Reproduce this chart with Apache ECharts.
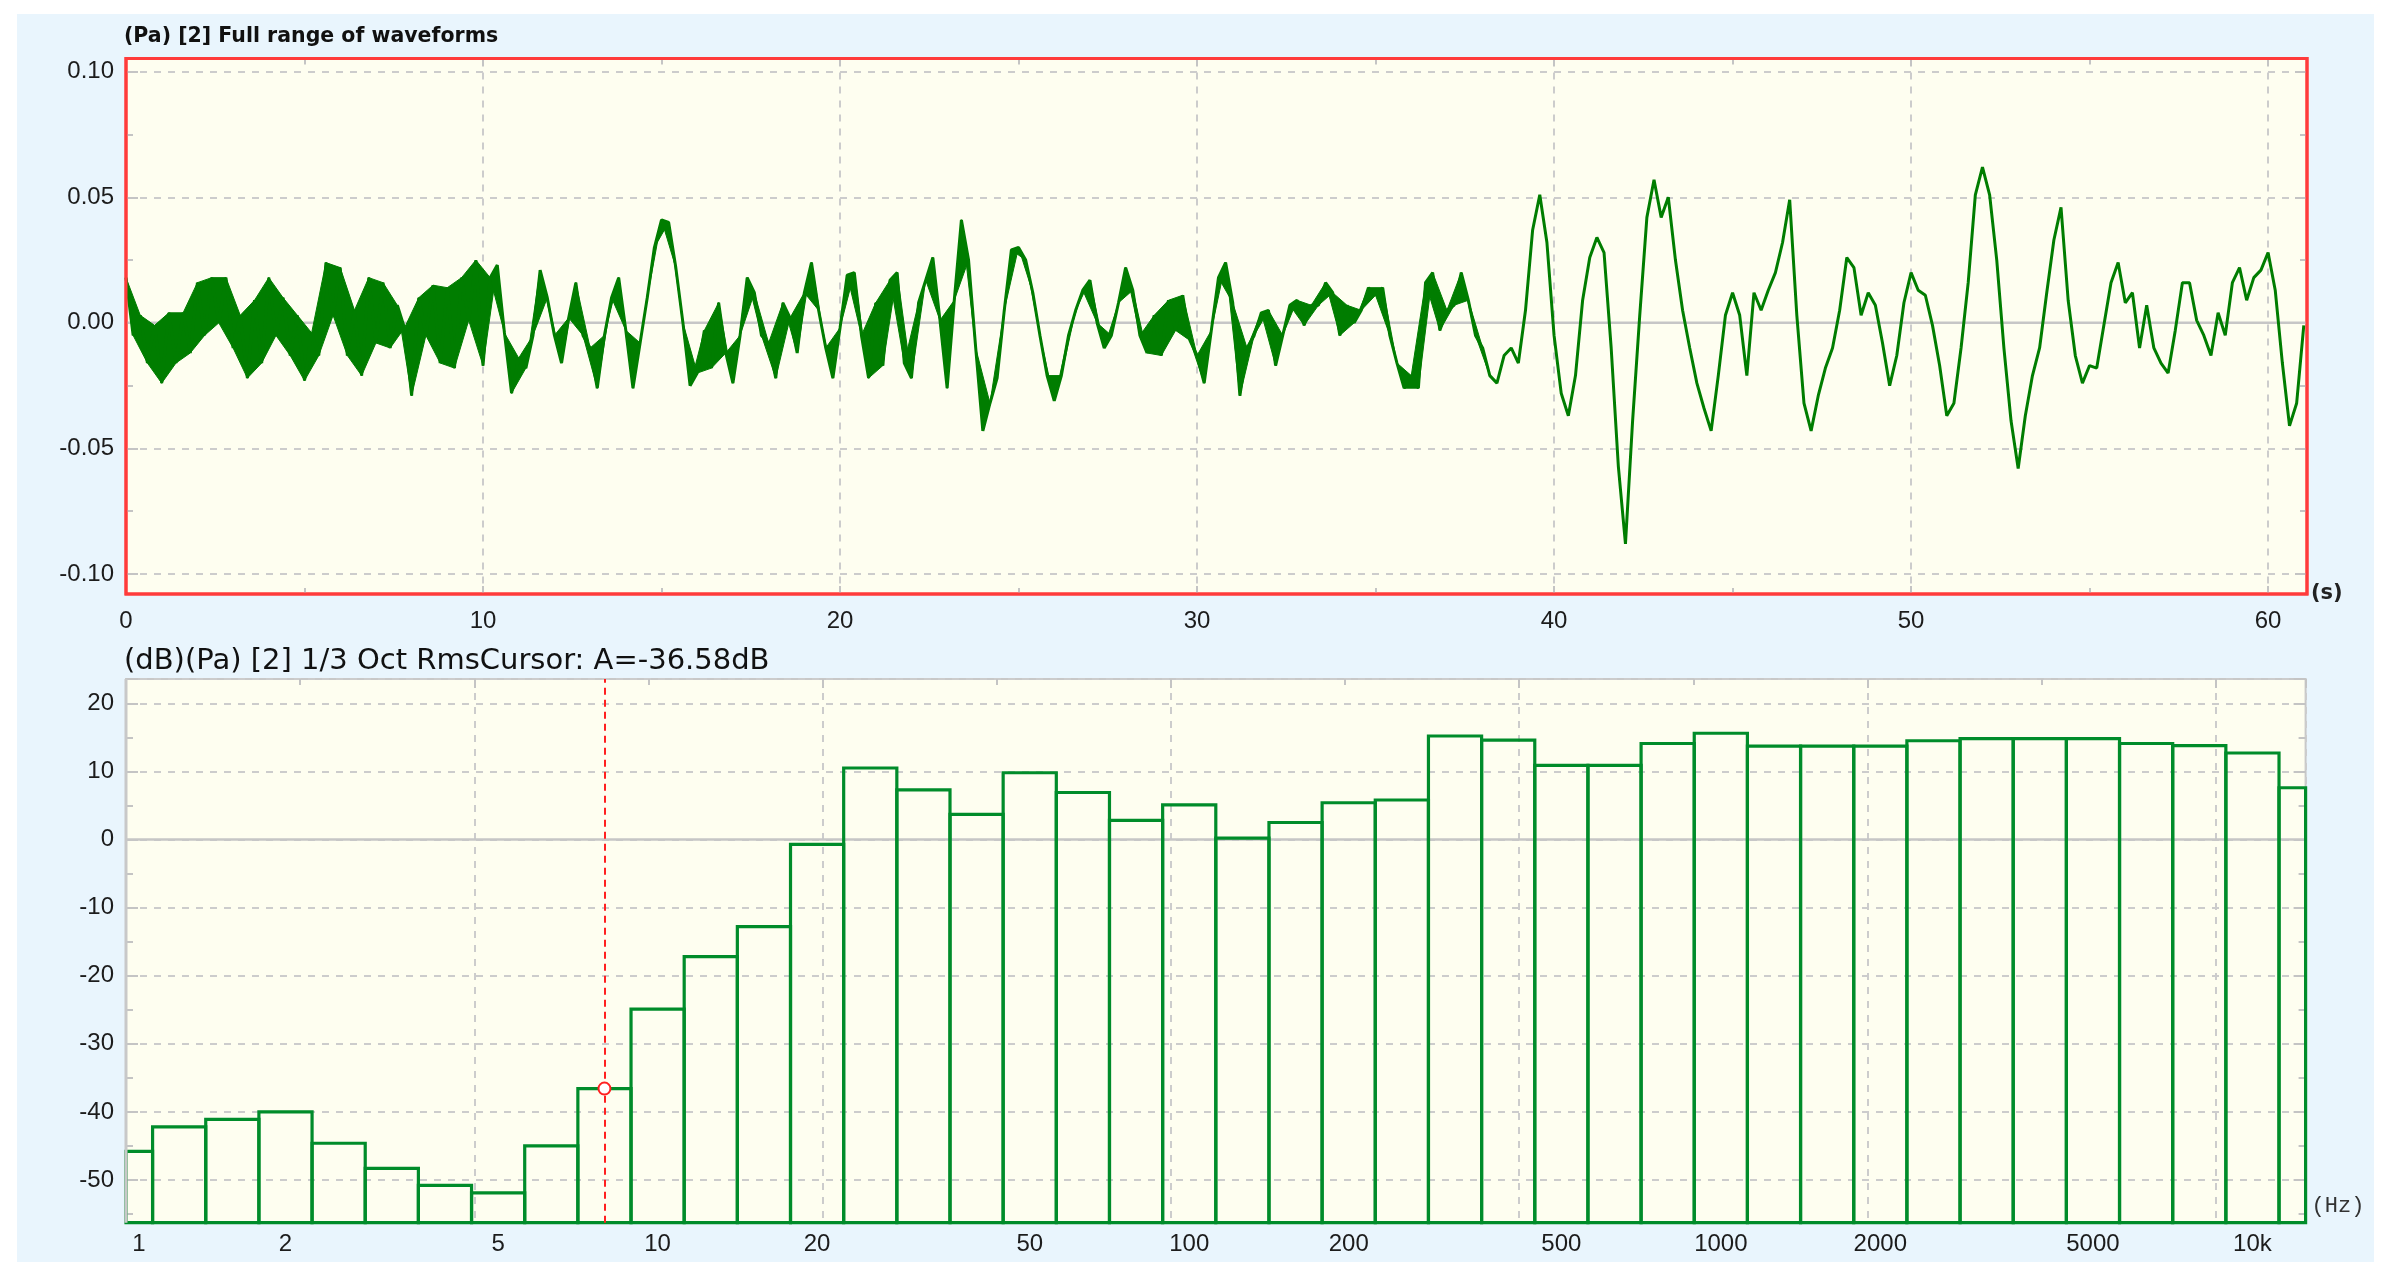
<!DOCTYPE html>
<html><head><meta charset="utf-8">
<script src="https://cdn.jsdelivr.net/npm/echarts@6/dist/echarts.min.js"></script>
<style>
html,body{margin:0;padding:0;background:#fff;width:2397px;height:1283px;overflow:hidden;}
#panel{position:absolute;left:17px;top:14px;width:2357px;height:1248px;background:#e9f5fd;}
#chart{position:absolute;left:0;top:0;width:2397px;height:1283px;}
</style></head><body>
<div id="panel"></div><div id="chart"></div>
<script>
const waveStep = 0.2;
const waveValues = [
 18,-5,3,-16,-1,-24,4,-16,4,-12, 16,-5,18,0,18,-10,3,-22,9,-16,
 18,-5,10,-13,3,-23,-4,-13,24,3, 22,-13,5,-21,18,-8,16,-10,7,-2,
 -29,10,-5,15,-16,14,-18,18,1,25, -17,18,23,-4,-28,-14,-18,-5,21,10,
 -5,-16,2,16,-5,-10,-26,-5,10,18, -3,-26,-8,10,30,41,40,22,0,-25,
 -20,-3,-18,8,-12,-24,-5,18,12,-5, -8,-22,8,2,-12,12,24,5,-10,-22,
 -2,19,20,-5,-22,8,-17,17,20,-16, -22,8,17,26,1,-26,9,41,25,-10,
 -43,-32,-22,5,29,30,25,12,-5,-21, -31,-21,-5,5,13,17,0,-10,-5,8,
 22,13,-5,-12,3,-13,9,-3,11,-7, -13,-24,-3,18,24,8,-29,-10,-5,4,
 5,-17,-5,7,9,-1,7,7,16,12, -5,7,0,5,14,11,14,-5,-16,-26,
 -21,-26,16,20,-3,5,7,20,9,-5, -10,-21,-24,-13,-10,-16,5,37,51,32,
 -5,-28,-37,-21,9,26,34,28,-10,-57, -88,-39,3,42,57,42,50,25,5,-10,
 -24,-34,-43,-21,3,12,3,-21,12,5, 13,20,32,49,3,-32,-43,-29,-18,-10,
 5,26,22,3,12,7,-8,-25,-13,8, 20,13,11,-1,-17,-37,-32,-10,16,51,
 62,51,25,-10,-39,-58,-37,-21,-10,12, 33,46,9,-13,-24,-17,-18,-1,16,24,
 8,12,-10,7,-10,-16,-20,-3,16,16, 1,-5,-13,4,-5,16,22,9,18,21,
 28,13,-16,-41,-32,-1
];

// ---- 1/3 octave spectrum
const bandLabels = ['1','1.25','1.6','2','2.5','3.15','4','5','6.3','8','10','12.5','16','20','25','31.5','40','50','63','80',
 '100','125','160','200','250','315','400','500','630','800','1000','1250','1600','2000','2500','3150','4000','5000','6300','8000','10000','12500'];
const bandLevels = [-45.8,-42.2,-41.1,-40.0,-44.6,-48.3,-50.8,-51.9,-45.0,-36.58,-24.9,-17.2,-12.8,-0.7,10.5,7.3,3.7,9.8,6.9,2.8,
 5.1,0.2,2.5,5.4,5.8,15.2,14.6,10.9,10.9,14.1,15.6,13.7,13.7,13.7,14.5,14.8,14.8,14.8,14.1,13.8,12.7,7.6];
const freqTickLabels = ['1','2','5','10','20','50','100','200','500','1000','2000','5000','10000'];
const cursorBand = '8';
const cursorLevel = -36.58;

// ---- axis ranges / layout
const T_MAX = 61.09, P_MIN = -0.10796, P_MAX = 0.10526;
const DB_MIN = -56.27, DB_MAX = 23.57;
const GRID_SPLIT_MAX = 6.258;
const NOISY_END = 38; // s, dense-noise band drawn filled up to here
const G0 = {left: 126, top: 58.5, width: 2181, height: 535.5};
const G1 = {left: 126, top: 679, width: 2179.6, height: 543.7};

const isMult = (v, s) => Math.abs(v / s - Math.round(v / s)) < 1e-6;
const labelFont = {fontFamily: 'Liberation Sans, Arial, sans-serif', fontSize: 24, color: '#1c1c1c'};
const dash = {color: '#cccccc', width: 2, type: [7, 7]};
const tickStyle = {color: '#c4c4c4', width: 2};
const cursorIdx = bandLabels.indexOf(cursorBand);
const WAVE_COLOR = '#007d00';

const wavePts = waveValues.map((v, i) => [+(i * waveStep).toFixed(2), v / 1000]);
const noiseTris = [];
for (let i = 1; i < wavePts.length - 1; i++) {
  if (wavePts[i][0] > NOISY_END) break;
  noiseTris.push([wavePts[i - 1][0], wavePts[i - 1][1], wavePts[i][0], wavePts[i][1], wavePts[i + 1][0], wavePts[i + 1][1]]);
}

function renderTri(params, api) {
  const a = api.coord([api.value(0), api.value(1)]);
  const b = api.coord([api.value(2), api.value(3)]);
  const c = api.coord([api.value(4), api.value(5)]);
  return {type: 'polygon', shape: {points: [a, b, c]}, style: {fill: WAVE_COLOR, stroke: WAVE_COLOR, lineWidth: 1}};
}

function renderBar(params, api) {
  const i = api.value(0), v = api.value(1);
  const band = api.size([1, 0])[0];
  const top = api.coord([i, v]);
  const bottom = api.coord([i, DB_MIN]);
  const cs = params.coordSys;
  const x0 = Math.max(top[0] - band / 2, cs.x);
  const x1 = Math.min(top[0] + band / 2, cs.x + cs.width);
  return {type: 'rect', shape: {x: x0, y: top[1], width: x1 - x0, height: bottom[1] - top[1]},
          style: {fill: 'none', stroke: '#008c2a', lineWidth: 3.2}};
}

const chart = echarts.init(document.getElementById('chart'), null, {renderer: 'canvas'});
chart.setOption({
  backgroundColor: 'transparent',
  animation: false,
  title: [
    {text: '(Pa) [2] Full range of waveforms', left: 124, top: 26, padding: 0,
     textStyle: {fontFamily: 'DejaVu Sans', fontSize: 20.5, fontWeight: 'bold', color: '#111'}},
    {text: '(dB)(Pa) [2] 1/3 Oct RmsCursor: A=' + cursorLevel.toFixed(2) + 'dB', left: 124, top: 647, padding: 0,
     textStyle: {fontFamily: 'DejaVu Sans', fontSize: 29, fontWeight: 'normal', color: '#111'}}
  ],
  graphic: [
    {type: 'rect', z: 100, silent: true,
     shape: {x: G0.left, y: G0.top, width: G0.width, height: G0.height},
     style: {fill: 'none', stroke: '#ff3b3b', lineWidth: 3}},
    {type: 'line', z: 100, silent: true,
     shape: {x1: G1.left, y1: G1.top, x2: G1.left, y2: G1.top + G1.height},
     style: {stroke: '#c8c8c8', lineWidth: 3}}
  ],
  grid: [
    Object.assign({show: true, backgroundColor: '#fefef0', borderColor: '#ff3b3b', borderWidth: 3}, G0),
    Object.assign({show: true, backgroundColor: '#fefef0', borderColor: '#c8c8c8', borderWidth: 2}, G1)
  ],
  xAxis: [
    {gridIndex: 0, type: 'value', min: 0, max: T_MAX, interval: 10, position: 'bottom',
     axisLine: {show: false, onZero: false},
     axisTick: {show: true, inside: true, length: 8, lineStyle: tickStyle},
     minorTick: {show: true, splitNumber: 2, length: 6, lineStyle: tickStyle},
     axisLabel: Object.assign({margin: 15, formatter: v => isMult(v, 10) ? String(Math.round(v)) : ''}, labelFont),
     splitLine: {show: true, lineStyle: dash},
     name: '(s)', nameLocation: 'end', nameGap: 4,
     nameTextStyle: {fontFamily: 'DejaVu Sans', fontWeight: 'bold', fontSize: 21, color: '#222', verticalAlign: 'middle', padding: [0, 0, 8, 0]}},
    {gridIndex: 0, type: 'value', min: 0, max: T_MAX, interval: 10, position: 'top',
     axisLine: {show: false, onZero: false},
     axisTick: {show: true, inside: true, length: 8, lineStyle: tickStyle},
     minorTick: {show: true, splitNumber: 2, length: 6, lineStyle: tickStyle},
     axisLabel: {show: false}, splitLine: {show: false}},
    {gridIndex: 1, type: 'category', data: bandLabels, boundaryGap: false, position: 'bottom',
     axisLine: {show: false, onZero: false}, axisTick: {show: false}, splitLine: {show: false},
     axisLabel: Object.assign({margin: 10,
       interval: (i, v) => freqTickLabels.indexOf(v) >= 0,
       formatter: v => v === '10000' ? '10k' : (v === '1' ? '{first|1}' : v),
       rich: {first: Object.assign({padding: [0, 0, 0, 26]}, labelFont)}}, labelFont),
     name: '(Hz)', nameLocation: 'end', nameGap: 6,
     nameTextStyle: {fontFamily: 'Liberation Mono', fontSize: 22, color: '#333', verticalAlign: 'bottom', padding: [0, 0, 6, 0]}},
    {gridIndex: 1, type: 'value', min: 0, max: GRID_SPLIT_MAX, interval: 1, position: 'top',
     axisLine: {show: false, onZero: false},
     axisTick: {show: true, inside: true, length: 9, lineStyle: tickStyle},
     minorTick: {show: true, splitNumber: 2, length: 6, lineStyle: tickStyle},
     axisLabel: {show: false}, splitLine: {show: true, lineStyle: dash}}
  ],
  yAxis: [
    {gridIndex: 0, type: 'value', min: P_MIN, max: P_MAX, splitNumber: 4, position: 'left',
     axisLine: {show: false, onZero: false},
     axisTick: {show: true, inside: true, length: 12, lineStyle: tickStyle},
     minorTick: {show: true, splitNumber: 2, length: 7, lineStyle: tickStyle},
     axisLabel: Object.assign({margin: 12, formatter: v => isMult(v, 0.05) ? v.toFixed(2) : ''}, labelFont),
     splitLine: {show: true, lineStyle: dash}},
    {gridIndex: 0, type: 'value', min: P_MIN, max: P_MAX, splitNumber: 4, position: 'right',
     axisLine: {show: false, onZero: false},
     axisTick: {show: true, inside: true, length: 12, lineStyle: tickStyle},
     minorTick: {show: true, splitNumber: 2, length: 7, lineStyle: tickStyle},
     axisLabel: {show: false}, splitLine: {show: false}},
    {gridIndex: 1, type: 'value', min: DB_MIN, max: DB_MAX, splitNumber: 8, position: 'left',
     axisLine: {show: false, onZero: false},
     axisTick: {show: true, inside: true, length: 12, lineStyle: tickStyle},
     minorTick: {show: true, splitNumber: 2, length: 7, lineStyle: tickStyle},
     axisLabel: Object.assign({margin: 12, formatter: v => isMult(v, 10) ? String(Math.round(v)) : ''}, labelFont),
     splitLine: {show: true, lineStyle: dash}},
    {gridIndex: 1, type: 'value', min: DB_MIN, max: DB_MAX, splitNumber: 8, position: 'right',
     axisLine: {show: false, onZero: false},
     axisTick: {show: true, inside: true, length: 12, lineStyle: tickStyle},
     minorTick: {show: true, splitNumber: 2, length: 7, lineStyle: tickStyle},
     axisLabel: {show: false}, splitLine: {show: false}}
  ],
  series: [
    {type: 'line', xAxisIndex: 0, yAxisIndex: 0, silent: true, z: 1, symbol: 'none',
     data: [[0, 0], [T_MAX, 0]], lineStyle: {color: '#c6c6c6', width: 2.5}},
    {type: 'custom', name: 'noise band', xAxisIndex: 0, yAxisIndex: 0, silent: true, z: 3,
     encode: {x: [0, 2, 4], y: [1, 3, 5]}, data: noiseTris, renderItem: renderTri},
    {type: 'line', name: 'wave', xAxisIndex: 0, yAxisIndex: 0, silent: true, z: 3, symbol: 'none', showSymbol: false,
     data: wavePts, lineStyle: {color: WAVE_COLOR, width: 3}},
    {type: 'line', xAxisIndex: 2, yAxisIndex: 2, silent: true, z: 1, symbol: 'none',
     data: [[0, 0], [bandLabels.length - 1, 0]], lineStyle: {color: '#c6c6c6', width: 2.5}},
    {type: 'custom', name: '1/3 Oct', xAxisIndex: 2, yAxisIndex: 2, silent: true, z: 3, clip: false,
     data: bandLevels.map((v, i) => [i, v]), renderItem: renderBar},
    {type: 'line', name: 'cursor', xAxisIndex: 2, yAxisIndex: 2, silent: true, z: 6,
     data: [[cursorIdx, cursorLevel]], symbol: 'emptyCircle', symbolSize: 12, showSymbol: true,
     itemStyle: {color: '#ff2020', borderWidth: 2}, lineStyle: {width: 0},
     markLine: {silent: true, symbol: 'none', label: {show: false},
       lineStyle: {color: '#ff2020', type: [7, 5], width: 2},
       data: [{xAxis: cursorIdx}]}}
  ]
});
</script>
</body></html>
